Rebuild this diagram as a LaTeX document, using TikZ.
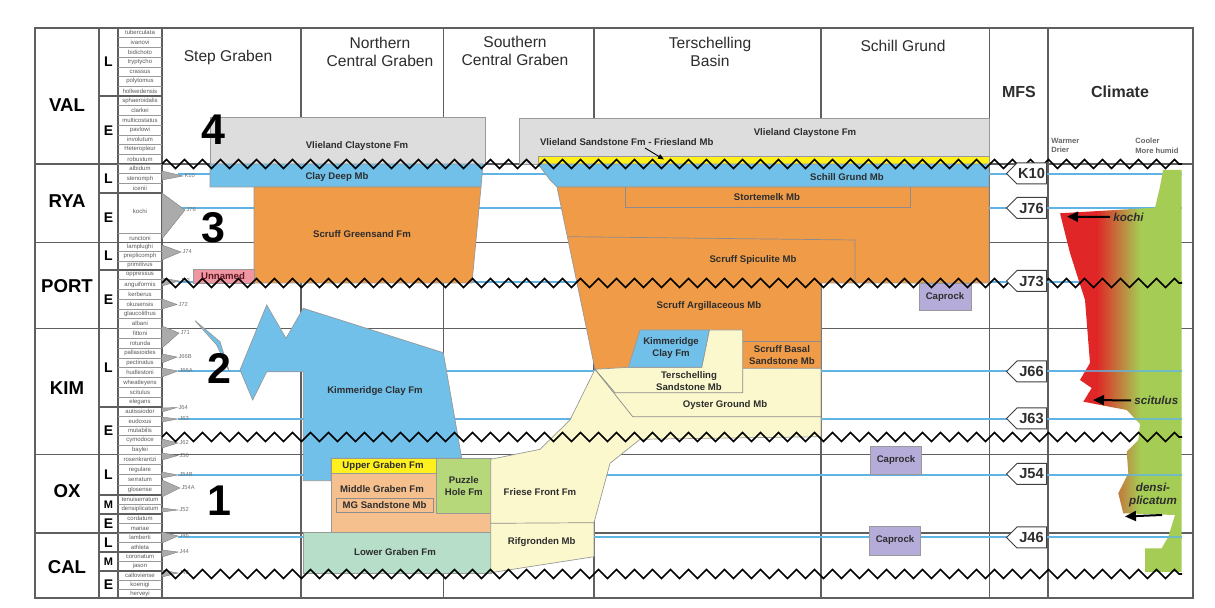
\documentclass[tikz,border=0pt]{standalone}
\usepackage{fontspec}
\setmainfont{Liberation Sans}
\usetikzlibrary{arrows.meta,decorations.pathmorphing}
\definecolor{cgray}{RGB}{221,221,221}
\definecolor{cblue}{RGB}{112,192,234}
\definecolor{corange}{RGB}{240,155,72}
\definecolor{cyellow}{RGB}{255,240,30}
\definecolor{clyellow}{RGB}{252,248,205}
\definecolor{cpeach}{RGB}{245,192,142}
\definecolor{cpuzzle}{RGB}{182,216,122}
\definecolor{clower}{RGB}{182,222,200}
\definecolor{cpink}{RGB}{240,150,162}
\definecolor{ccap}{RGB}{182,172,218}
\definecolor{cred}{RGB}{224,38,38}
\definecolor{cgreen}{RGB}{165,205,85}
\definecolor{cmfs}{RGB}{95,180,228}
\definecolor{cgrid}{RGB}{95,95,95}
\definecolor{ctext}{RGB}{45,45,45}
\tikzset{
  gridline/.style={draw=cgrid, line width=0.6pt},
  zoneline/.style={draw=black!40, line width=0.3pt},
  subline/.style={draw=cgrid, line width=0.6pt},
  mfsline/.style={draw=cmfs, line width=1pt},
  facies/.style={draw=black!40, line width=0.35pt},
  member/.style={draw=black!45, line width=0.35pt},
  unconf/.style={draw=black, line width=0.8pt, decorate, decoration={zigzag, segment length=9pt, amplitude=2.2pt}},
  flabel/.style={font=\bfseries\fontsize{4.8}{5.8}\selectfont, text=ctext, align=center, inner sep=0pt},
  zone/.style={font=\fontsize{3.0}{3.2}\selectfont, text=black!65, inner sep=0pt},
  stage/.style={font=\bfseries\fontsize{9.3}{10}\selectfont},
  sub/.style={font=\bfseries\fontsize{7}{7}\selectfont},
  subm/.style={font=\bfseries\fontsize{5.5}{5.5}\selectfont},
  head/.style={font=\fontsize{7.8}{8.6}\selectfont, align=center, text=ctext},
  bighead/.style={font=\bfseries\fontsize{8}{8}\selectfont, text=ctext},
  seqnum/.style={font=\bfseries\fontsize{21.5}{21.5}\selectfont, inner sep=0pt},
  tri/.style={fill=black!33, draw=black!50, line width=0.2pt},
  trilabel/.style={font=\fontsize{2.9}{3}\selectfont, text=black!55, anchor=west, inner sep=0.3pt},
  tagshape/.style={fill=white, draw=black!75, line width=0.5pt},
  tagtext/.style={font=\bfseries\fontsize{7.3}{7.3}\selectfont, text=ctext, inner sep=0pt},
  caprock/.style={fill=ccap, draw=black!40, line width=0.35pt},
  climlabel/.style={font=\bfseries\itshape\fontsize{5.8}{6.4}\selectfont, text=ctext, align=center},
  climhead/.style={font=\bfseries\fontsize{3.8}{4.6}\selectfont, text=black!60, align=left, anchor=north west, inner sep=0pt},
  bigarrow/.style={-{Triangle[length=5.5pt,width=5pt]}, line width=1pt},
  thinarrow/.style={-{Triangle[length=3pt,width=2.4pt]}, line width=0.45pt},
}
\newcommand{\zonerows}[4]{%
  \foreach \zn [count=\zi] in {#4} {%
    \node[zone] (#1\zi) at (140,{#2+(\zi-0.5)*#3}) {\zn};
    \draw[zoneline] (118,{#2+\zi*#3}) -- (162,{#2+\zi*#3});
  }}
\newcommand{\seqtri}[6]{%
  \filldraw[tri] (162,#3) -- (#5,#6) -- (162,#4) -- cycle;
  \node[trilabel] (#1) at ({#5+0.5},#6) {#2};}
\newcommand{\mfstag}[3]{%
  \filldraw[tagshape] (1006.5,#2) -- (1017,{#2-10.5}) -- (1046.5,{#2-10.5}) -- (1046.5,{#2+10.5}) -- (1017,{#2+10.5}) -- cycle;
  \node[tagtext] (#1) at (1031.5,#2) {#3};}
\begin{document}
\begin{tikzpicture}[x=0.5pt,y=-0.5pt]
\useasboundingbox (0,0) rectangle (1215,608);
\fill[white] (0,0) rectangle (1215,608);

% ---------- grid ----------
\foreach \x in {99,118,162,301,443.3,594,821,989.5,1048} {\draw[gridline] (\x,28) -- (\x,598);}
\foreach \y in {164,242.5,328.5,454.5,533} {\draw[gridline] (35,\y) -- (1193,\y);}

% zones
\zonerows{va}{28}{9.714}{tuberculata,ivanovi,bidichoto,tryptycho,crassus,polytomus,hollwedensis}
\zonerows{vb}{96}{9.714}{sphaeroidalis,clarkei,multicostatus,pavlowi,involutum,Heteropleur,robustum}
\zonerows{ra}{164}{9.667}{albidum,stenomph,icenii}
\node[zone] (rb1) at (140,211) {kochi};
\draw[zoneline] (118,233) -- (162,233);
\node[zone] (rb2) at (140,238) {runctoni};
\zonerows{pa}{242.5}{9.167}{lamplughi,preplicomph,primitivus}
\zonerows{pb}{270}{9.75}{oppressus,anguiformis,kerberus,okusensis,glaucolithus,albani}
\zonerows{ka}{328.5}{9.8125}{fittoni,rotunda,pallasioides,pectinatus,hudlestoni,wheatleyens,scitulus,elegans}
\zonerows{kb}{407}{9.5}{autissiodor,eudoxus,mutabilis,cymodoce,baylei}
\zonerows{oa}{454.5}{10.125}{rosenkrantzi,regulare,serratum,glosense}
\zonerows{ob}{495}{9.5}{tenuiserratum,densiplicatum}
\zonerows{oc}{514}{9.5}{cordatum,mariae}
\zonerows{ca}{533}{9.5}{lamberti,athleta}
\zonerows{cb}{552}{9.5}{coronatum,jason}
\zonerows{cc}{571}{9}{calloviense,koenigi,herveyi}
\foreach \y in {96,193,270,407,495,514,552,571} {\draw[subline] (99,\y) -- (162,\y);}

% stage / substage labels
\node[stage] (sVAL) at (67,105) {VAL};
\node[stage] (sRYA) at (67,201) {RYA};
\node[stage] (sPORT) at (67,286) {PORT};
\node[stage] (sKIM) at (67,388) {KIM};
\node[stage] (sOX) at (67,491) {OX};
\node[stage] (sCAL) at (67,567) {CAL};
\node[sub] (uVL) at (108.5,62) {L};
\node[sub] (uVE) at (108.5,131) {E};
\node[sub] (uRL) at (108.5,178.5) {L};
\node[sub] (uRE) at (108.5,218) {E};
\node[sub] (uPL) at (108.5,256) {L};
\node[sub] (uPE) at (108.5,300) {E};
\node[sub] (uKL) at (108.5,368) {L};
\node[sub] (uKE) at (108.5,431) {E};
\node[sub] (uOL) at (108.5,475) {L};
\node[subm] (uOM) at (108.5,504.5) {M};
\node[sub] (uOE) at (108.5,523.5) {E};
\node[sub] (uCL) at (108.5,542.5) {L};
\node[subm] (uCM) at (108.5,561.5) {M};
\node[sub] (uCE) at (108.5,584.5) {E};

% headers
\node[head] (hSG) at (228,57) {Step Graben};
\node[head] (hNCG) at (380,52) {Northern\\Central Graben};
\node[head] (hSCG) at (515,51) {Southern\\Central Graben};
\node[head] (hTB) at (710,52) {Terschelling\\Basin};
\node[head] (hSch) at (903,46) {Schill Grund};
\node[bighead] (hMFS) at (1019,92) {MFS};
\node[bighead] (hCl) at (1120,92) {Climate};

% MFS blue lines
\foreach \y in {174,208,282,371,419,475,537} {\draw[mfsline] (178,\y) -- (1182,\y);}

% sequence triangles
\seqtri{tK10}{K10}{171}{180}{183}{176}
\seqtri{tJ76}{J76}{193}{239}{185}{210}
\seqtri{tJ74}{J74}{245}{260}{181}{252}
\seqtri{tJ73}{J73}{278}{286}{179}{281}
\seqtri{tJ72}{J72}{299}{309}{177}{304.5}
\seqtri{tJ71}{J71}{326}{348}{179}{333}
\seqtri{tJ66B}{J66B}{354}{363}{177}{357}
\seqtri{tJ66A}{J66A}{368}{377}{178}{371}
\seqtri{tJ64}{J64}{408}{412}{177}{407.5}
\seqtri{tJ63}{J63}{417}{422}{178}{419}
\seqtri{tJ62}{J62}{439}{448}{178}{443}
\seqtri{tJ56}{J56}{453}{460}{178}{455.5}
\seqtri{tJ54B}{J54B}{472}{478}{178}{475}
\seqtri{tJ54A}{J54A}{480}{497}{180}{488}
\seqtri{tJ52}{J52}{508}{512}{178}{510}
\seqtri{tJ46}{J46}{532}{543}{178}{536}
\seqtri{tJ44}{J44}{550}{557}{178}{552}
\seqtri{tJ42}{J42}{570}{577}{178}{573}

% ---------- facies: north ----------
\filldraw[facies, fill=cgray] (210,117) rectangle (485,164);
\filldraw[facies, fill=cblue] (210,164) -- (483,164) -- (481,187) -- (210,187) -- cycle;
\filldraw[facies, fill=corange] (254,187) -- (481,187) -- (472,283) -- (254,283) -- cycle;
\filldraw[facies, fill=cpink] (193,269) rectangle (254,283);

\filldraw[facies, fill=cblue] (303.3,308.3) -- (443.3,352.7) -- (461.7,458.3) -- (331,458.3) -- (331,480.7) -- (303.3,480.7) -- (303.3,371.7) -- (266.7,371.7) -- (252.7,400) -- (240,370) -- (266.7,305) -- (286,338.3) -- cycle;
\filldraw[facies, fill=cblue] (195,320.7) -- (220,341.7) -- (229.3,371.7) -- (216.7,345) -- cycle;

\filldraw[facies, fill=cpeach] (331,473.5) rectangle (491,532);
\filldraw[facies, fill=cyellow] (331,458.3) rectangle (436.7,473.5);
\filldraw[facies, fill=cpuzzle] (436.7,458.3) rectangle (491,513);
\draw[member] (336,498) rectangle (433,512.7);
\filldraw[facies, fill=clower] (303.3,532) rectangle (491,573);

% ---------- facies: south / Terschelling ----------
\filldraw[facies, fill=cgray] (519,118) rectangle (989,164);
\filldraw[facies, fill=cyellow] (538,156) rectangle (989,166);
\filldraw[facies, fill=cblue] (538,164) -- (989,164) -- (989,187) -- (557,187) -- (550,180) -- (544,172) -- cycle;
\filldraw[facies, fill=corange] (557,187) -- (989,187) -- (989,283) -- (821,283) -- (821,368.3) -- (595,369.3) -- cycle;
\draw[member] (625.3,187) -- (625.3,207.7) -- (910,207.7) -- (910,187);
\draw[member] (568.3,236.7) -- (855,240) -- (855,282);
\draw[member] (742.7,341.7) -- (821,341.7);
\filldraw[facies, fill=clyellow] (490.7,459.3) -- (540,449.3) -- (570,420) -- (595,369.3) -- (628.3,367.3) -- (701.7,367.3) -- (709.3,330) -- (742.7,330) -- (742.7,368.3) -- (821,368.3) -- (821,436.7) -- (640,439.3) -- (610,463.3) -- (594,522.7) -- (594,556.7) -- (490.7,572.7) -- cycle;
\draw[member] (490.7,523.3) -- (594,522.7);
\draw[member] (595,369.3) -- (615,392.7) -- (742.7,392.7) -- (742.7,368.3);
\draw[member] (595,369.3) -- (632.7,416.7) -- (821,416.7);
\filldraw[facies, fill=cblue] (640,330) -- (709.3,330) -- (701.7,367.3) -- (628.3,367.3) -- cycle;

% caprocks
\filldraw[caprock] (919,283) rectangle (971,310.7);
\filldraw[caprock] (870,446) rectangle (921.7,474.3);
\filldraw[caprock] (869.3,526) rectangle (920.7,555);

% ---------- climate ----------
\begin{scope}
\clip (1163,170) -- (1181.7,170) -- (1181.7,572) -- (1145,572) -- (1145,548.3) -- (1161.7,548.3) -- (1168.3,536.7) -- (1175,515) -- (1123.3,513.3) -- (1118.3,493.3) -- (1128.3,473.3) -- (1126.7,451.7) -- (1138.3,440) -- (1140,424) -- (1126.7,410) -- (1083.3,401.7) -- (1091.7,388) -- (1080,380) -- (1090,363) -- (1085,300) -- (1070,253) -- (1060,213.3) -- (1155,207.7) -- (1160,186.7) -- cycle;
\fill[cred] (1040,160) rectangle (1097,580);
\shade[left color=cred, right color=cgreen] (1096.5,160) rectangle (1140.5,580);
\fill[cgreen] (1140,160) rectangle (1190,580);
\end{scope}
\foreach \y in {371,419,475,537} {\draw[mfsline, opacity=0.75] (1080,\y) -- (1182,\y);}
\node[climhead] (warm) at (1051,138) {Warmer\\Drier};
\node[climhead] (cool) at (1135,138) {Cooler\\More humid};

% ---------- unconformities ----------
\foreach \y in {164,283,437,574} {\draw[unconf] (162,\y) -- (1182,\y);}

% MFS tags
\mfstag{mK10}{173.5}{K10}
\mfstag{mJ76}{208}{J76}
\mfstag{mJ73}{281}{J73}
\mfstag{mJ66}{371.5}{J66}
\mfstag{mJ63}{418.5}{J63}
\mfstag{mJ54}{474}{J54}
\mfstag{mJ46}{537.5}{J46}

% climate arrows
\node[climlabel, anchor=west, inner sep=1.5pt] (kochi) at (1110,217) {kochi};
\coordinate (kochitip) at (1067,216.7);
\draw[bigarrow] (kochi.west) -- (kochitip);
\node[climlabel, anchor=west, inner sep=1.5pt] (scit) at (1131,400.5) {scitulus};
\coordinate (scittip) at (1093,400);
\draw[bigarrow] (scit.west) -- (scittip);
\node[climlabel] (densi) at (1153,495) {densi-\\plicatum};
\coordinate (densitail) at (1162,515);
\coordinate (densitip) at (1125,516.5);
\draw[bigarrow] (densitail) -- (densitip);

% ---------- facies labels ----------
\node[flabel] (lVC1) at (357,146) {Vlieland Claystone Fm};
\node[flabel] (lCD) at (337,177) {Clay Deep Mb};
\node[flabel] (lSG) at (362,234) {Scruff Greensand Fm};
\node[flabel, text={rgb,255:red,90;green,25;blue,35}] (lUn) at (223,276) {Unnamed};
\node[flabel] (lKC1) at (375,391) {Kimmeridge Clay Fm};
\node[flabel] (lUG) at (383,466) {Upper Graben Fm};
\node[flabel] (lPH) at (463.8,486) {Puzzle\\Hole Fm};
\node[flabel] (lMG) at (382,489) {Middle Graben Fm};
\node[flabel] (lMGS) at (384.5,505.5) {MG Sandstone Mb};
\node[flabel] (lLG) at (395,552) {Lower Graben Fm};
\node[flabel] (lFF) at (540,492) {Friese Front Fm};
\node[flabel] (lRif) at (541.7,542.3) {Rifgronden Mb};
\node[flabel] (lVC2) at (805,133) {Vlieland Claystone Fm};
\node[flabel] (lVSF) at (626.7,141.7) {Vlieland Sandstone Fm - Friesland Mb};
\coordinate (vsftail) at (645,148);
\coordinate (vsftip) at (664,159.5);
\draw[thinarrow] (vsftail) -- (vsftip);
\node[flabel] (lSchG) at (847,177) {Schill Grund Mb};
\node[flabel] (lSto) at (767,197.5) {Stortemelk Mb};
\node[flabel] (lSpi) at (753,260) {Scruff Spiculite Mb};
\node[flabel] (lArg) at (709,306.5) {Scruff Argillaceous Mb};
\node[flabel] (lKC2) at (671,348) {Kimmeridge\\Clay Fm};
\node[flabel] (lSBS) at (782,355) {Scruff Basal\\Sandstone Mb};
\node[flabel] (lTS) at (689,381) {Terschelling\\Sandstone Mb};
\node[flabel] (lOG) at (725,405) {Oyster Ground Mb};
\node[flabel] (lCap1) at (945,297) {Caprock};
\node[flabel] (lCap2) at (896,460) {Caprock};
\node[flabel] (lCap3) at (895,540.5) {Caprock};

% sequence numbers
\node[seqnum] (n4) at (213,130) {4};
\node[seqnum] (n3) at (213,228) {3};
\node[seqnum] (n2) at (219,368) {2};
\node[seqnum] (n1) at (219,501) {1};

% frame
\draw[draw=cgrid, line width=0.75pt] (35,28) rectangle (1193,598);
\end{tikzpicture}
\end{document}
